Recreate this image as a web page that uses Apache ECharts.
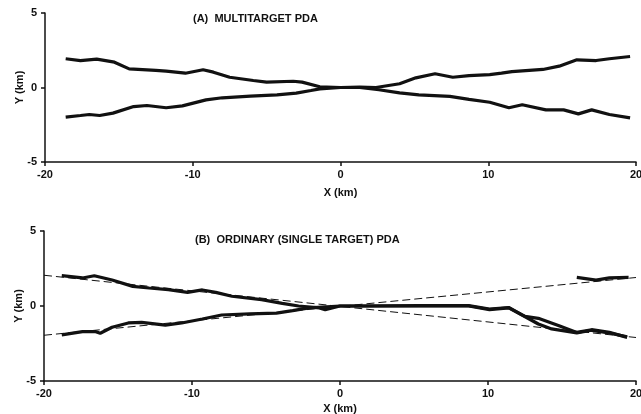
<!DOCTYPE html>
<html>
<head>
<meta charset="utf-8">
<script src="https://cdn.jsdelivr.net/npm/echarts@6/dist/echarts.min.js"></script>
<style>
  html, body { margin: 0; padding: 0; background: #fff; }
  #chart { width: 641px; height: 414px; }
</style>
</head>
<body>
<div id="chart"></div>
<script>
  // tick values
  var xTicks = [-20, -10, 0, 10, 20]
  var yTicks = [-5, 0, 5]

  // (A) multitarget PDA tracks
  var trackA1 = [[-18.6,1.93],[-17.6,1.8],[-16.5,1.9],[-15.3,1.7],[-14.3,1.25],[-12.5,1.15],[-11.8,1.1],[-10.5,0.96],[-9.3,1.19],[-8.6,1.03],[-7.5,0.69],[-5.9,0.47],[-5.0,0.36],[-3.2,0.42],[-2.6,0.36],[-1.4,0.05],[0,0],[1.3,0],[2.6,-0.15],[4.0,-0.36],[5.3,-0.49],[7.4,-0.6],[8.7,-0.8],[10.1,-0.99],[11.4,-1.36],[12.3,-1.16],[13.9,-1.5],[15.1,-1.5],[16.1,-1.77],[17.0,-1.5],[18.2,-1.81],[19.6,-2.04]]
  var trackA2 = [[-18.6,-1.99],[-17.6,-1.88],[-17.0,-1.81],[-16.3,-1.88],[-15.4,-1.72],[-14.0,-1.28],[-13.1,-1.21],[-11.8,-1.36],[-10.7,-1.23],[-9.1,-0.83],[-8.0,-0.69],[-6.1,-0.58],[-4.3,-0.49],[-3.0,-0.38],[-2.0,-0.2],[-1.4,-0.09],[0,0],[1.3,0.02],[2.4,0],[4.0,0.25],[5.1,0.65],[6.4,0.92],[7.6,0.69],[8.7,0.8],[10.1,0.87],[10.9,0.96],[11.6,1.07],[13.7,1.21],[14.8,1.43],[16.0,1.86],[17.3,1.81],[18.2,1.93],[19.6,2.08]]

  // (B) ordinary PDA tracks
  var trackB1 = [[-18.8,2.02],[-17.4,1.87],[-16.6,2.02],[-15.4,1.73],[-14.0,1.31],[-12.9,1.2],[-11.6,1.09],[-10.3,0.91],[-9.3,1.07],[-8.4,0.91],[-7.3,0.65],[-5.3,0.42],[-3.9,0.18],[-2.8,0],[-1.4,-0.13],[-1.0,-0.25],[0,0],[1.5,0],[5.3,0],[8.7,0],[10.1,-0.24],[11.4,-0.13],[12.5,-0.69],[13.4,-0.82],[14.8,-1.31],[16.0,-1.76],[17.0,-1.58],[18.2,-1.76],[19.4,-2.09]]
  var trackB2 = [[-18.8,-1.93],[-17.4,-1.71],[-16.5,-1.71],[-16.2,-1.82],[-15.4,-1.42],[-14.3,-1.13],[-13.4,-1.09],[-11.8,-1.27],[-10.7,-1.13],[-9.3,-0.87],[-8.0,-0.6],[-6.1,-0.53],[-4.3,-0.47],[-3.2,-0.31],[-2.1,-0.13],[0,0],[1.5,0],[5.3,0.02],[8.7,0.02],[10.1,-0.2],[11.4,-0.1],[12.3,-0.6],[13.4,-1.2],[14.3,-1.53],[16.0,-1.8],[17.0,-1.62],[18.2,-1.8],[19.4,-2.05]]
  var trackB3 = [[16.0,1.91],[17.3,1.73],[18.2,1.87],[19.5,1.91]]
  // true trajectories (dashed)
  var truthB1 = [[-20,2.05],[20,-2.1]]
  var truthB2 = [[-20,-1.95],[20,1.9]]

  var font = '"Liberation Sans", Arial, sans-serif'
  var ink = '#111'

  function xAxisOf(idx, gap) {
    return {
      type: 'value', gridIndex: idx,
      min: xTicks[0], max: xTicks[xTicks.length - 1], interval: 10,
      name: 'X (km)', nameLocation: 'middle', nameGap: gap, nameMoveOverlap: false,
      nameTextStyle: { color: ink, fontFamily: font, fontWeight: 'bold', fontSize: 11 },
      axisLine: { onZero: false, lineStyle: { color: ink, width: 1.5 } },
      axisTick: { show: true, length: 4, lineStyle: { color: ink, width: 1.5 } },
      axisLabel: { color: ink, fontFamily: font, fontWeight: 'bold', fontSize: 11, margin: 7 },
      splitLine: { show: false }
    }
  }
  function yAxisOf(idx) {
    return {
      type: 'value', gridIndex: idx,
      min: yTicks[0], max: yTicks[yTicks.length - 1], interval: 5,
      name: 'Y (km)', nameLocation: 'middle', nameGap: 20, nameMoveOverlap: false,
      nameTextStyle: { color: ink, fontFamily: font, fontWeight: 'bold', fontSize: 11 },
      axisLine: { onZero: false, lineStyle: { color: ink, width: 1.5 } },
      axisTick: { show: true, length: 4, lineStyle: { color: ink, width: 1.5 } },
      axisLabel: { color: ink, fontFamily: font, fontWeight: 'bold', fontSize: 11, margin: 8 },
      splitLine: { show: false }
    }
  }
  function track(data, idx) {
    return {
      type: 'line', xAxisIndex: idx, yAxisIndex: idx, data: data,
      showSymbol: false, silent: true,
      lineStyle: { color: ink, width: 3.2 }
    }
  }
  function truth(data) {
    return {
      type: 'line', xAxisIndex: 1, yAxisIndex: 1, data: data,
      showSymbol: false, silent: true,
      lineStyle: { color: ink, width: 1, type: [8, 4] }
    }
  }

  var chart = echarts.init(document.getElementById('chart'))
  chart.setOption({
    backgroundColor: '#fff',
    animation: false,
    title: [{
      text: '(A)  MULTITARGET PDA', left: 193, top: 13, padding: 0,
      textStyle: { color: ink, fontFamily: font, fontWeight: 'bold', fontSize: 11 }
    }, {
      text: '(B)  ORDINARY (SINGLE TARGET) PDA', left: 195, top: 234, padding: 0,
      textStyle: { color: ink, fontFamily: font, fontWeight: 'bold', fontSize: 11 }
    }],
    grid: [
      { left: 45, right: 5, top: 13, height: 149, outerBoundsMode: 'none' },
      { left: 44, right: 5, top: 231, height: 150, outerBoundsMode: 'none' }
    ],
    xAxis: [xAxisOf(0, 25), xAxisOf(1, 22)],
    yAxis: [yAxisOf(0), yAxisOf(1)],
    series: [
      track(trackA1, 0),
      track(trackA2, 0),
      truth(truthB1),
      truth(truthB2),
      track(trackB1, 1),
      track(trackB2, 1),
      track(trackB3, 1)
    ]
  })
</script>
</body>
</html>
